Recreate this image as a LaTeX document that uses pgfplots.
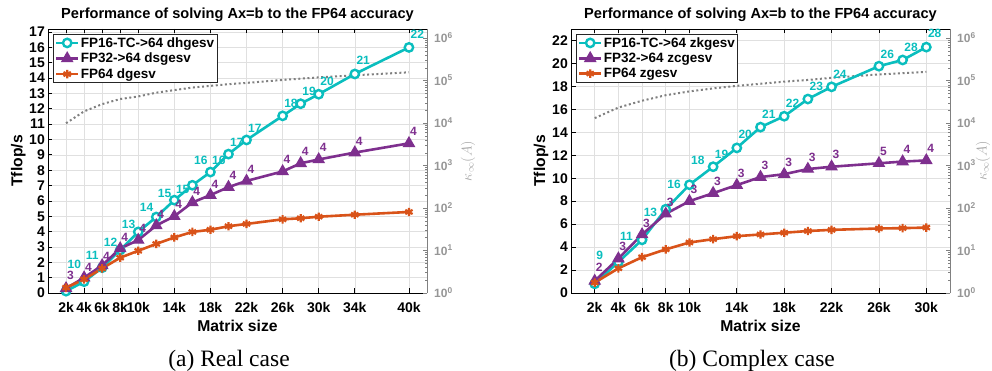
\documentclass[border=0pt]{standalone}
\usepackage{pgfplots}
\pgfplotsset{compat=1.18}
\usepackage{pgfplotstable}
\usepackage{fontspec}
\setmainfont{Liberation Sans}
\newfontfamily\capfont{Liberation Serif}
\definecolor{cyanc}{RGB}{10,190,190}
\definecolor{purp}{RGB}{126,47,142}
\definecolor{oran}{RGB}{217,83,25}
\definecolor{gridc}{RGB}{224,224,224}
\definecolor{kgray}{RGB}{128,128,128}
\definecolor{rgray}{RGB}{150,150,150}
\newcommand\tickfont{\fontsize{14bp}{14bp}\selectfont\bfseries}
\newcommand\titlefont{\fontsize{14.6bp}{15bp}\selectfont\bfseries}
\newcommand\labfont{\fontsize{15.7bp}{16bp}\selectfont\bfseries}
\newcommand\legfont{\fontsize{13.5bp}{14bp}\selectfont\bfseries}
\newcommand\datfont{\fontsize{12bp}{12bp}\selectfont\bfseries}
\newcommand\logfont{\fontsize{12bp}{12bp}\selectfont\bfseries}

% ---------- Real case ----------
\pgfplotstableread{
x y lab dy
2 0.12 10 23
4 0.74 11 22
6 1.65 12 21
8 2.8 13 22
10 3.98 14 20.5
12 4.95 15 19.5
14 6.05 15 7
16 7.02 16 21
18 7.88 16 8
20 9.05 17 8
22 9.97 17 7.5
26 11.54 18 8.5
28 12.33 19 7.8
30 12.95 20 8.3
34 14.27 21 9
40 16.0 22 8.7
}\Lcyan
\pgfplotstableread{
x y lab dy
2 0.3 3 8.5
4 1.0 4 6
6 1.8 4 5
8 2.9 4 7
10 3.45 4 8
12 4.4 4 7
14 5.0 4 8
16 5.9 4 6.5
18 6.38 4 7
20 6.9 4 7.3
22 7.3 4 7
26 7.92 4 8.3
28 8.45 4 7.5
30 8.7 4 7.5
34 9.15 4 7.5
40 9.75 4 8
}\Lpurp
\pgfplotstableread{
x y
2 0.35
4 0.89
6 1.6
8 2.3
10 2.75
12 3.2
14 3.62
16 3.98
18 4.12
20 4.35
22 4.5
26 4.8
28 4.87
30 4.97
34 5.1
40 5.28
}\Loran
\pgfplotstableread{
x k
2 10000
4 19000
6 28200
8 37200
10 42700
12 52500
14 60300
16 69200
18 75900
20 83200
22 89100
26 104700
28 112200
30 120200
34 134900
40 158500
}\Lkap

% ---------- Complex case ----------
\pgfplotstableread{
x y lab dy
2 0.8 9 24
4 2.7 11 22
6 4.63 13 23
8 7.3 16 21
10 9.43 18 20
12 11.0 19 8.7
14 12.64 20 9.3
16 14.45 21 9
18 15.4 22 8.4
20 16.9 23 8.7
22 17.96 24 8.3
26 19.76 26 7.7
28 20.3 28 8.3
30 21.42 28 9.3
}\Rcyan
\pgfplotstableread{
x y lab dy
2 1.05 2 9
4 3.0 3 8.3
6 5.1 3 7
8 6.9 3 7.3
10 8.0 3 8
12 8.7 3 8
14 9.4 3 8
16 10.1 3 8
18 10.35 3 8
20 10.8 3 8
22 11.0 3 8
26 11.3 5 8
28 11.45 4 8
30 11.55 4 8
}\Rpurp
\pgfplotstableread{
x y
2 0.9
4 2.15
6 3.12
8 3.8
10 4.4
12 4.69
14 4.95
16 5.1
18 5.25
20 5.4
22 5.5
26 5.62
28 5.65
30 5.7
}\Roran
\pgfplotstableread{
x k
2 13200
4 23400
6 33900
8 45700
10 56200
12 66100
14 75900
16 85100
18 95500
20 104700
22 117500
26 141300
28 151400
30 162200
}\Rkap

\pgfplotsset{
  base/.style={scale only axis, width=379bp, height=264bp, anchor=south west, xmin=0},
  frame/.style={
    axis x line*=box, axis y line*=left,
    tick align=inside, major tick length=4.5bp,
    grid=major, major grid style={gridc, line width=0.6bp},
    axis line style={black, line width=0.8bp},
    tick style={black, line width=0.8bp},
    ticklabel style={font=\tickfont},
    /pgf/number format/assume math mode=true,
    xticklabel style={anchor=base, inner sep=0pt, yshift=-19bp},
    yticklabel style={anchor=east, inner sep=0pt, xshift=-3bp},
    title style={font=\titlefont, anchor=base, at={(axis description cs:0.5,1)}, yshift=5bp, inner sep=0pt},
    xlabel style={font=\labfont, at={(axis description cs:0.5,0)}, anchor=base, yshift=-38bp, inner sep=0pt},
    ylabel style={font=\labfont, at={(axis description cs:-0.078,0.5)}, anchor=center, inner sep=0pt},
    title={Performance of solving Ax=b to the FP64 accuracy},
    xlabel={Matrix size}, ylabel={Tflop/s},
  },
  logax/.style={
    ymin=1, ymax=1.66e6,
    axis y line*=right, axis x line=none,
    tick align=inside, major tick length=4.5bp, minor tick length=2.5bp,
    axis line style={kgray, line width=0.8bp},
    tick style={kgray, line width=0.6bp},
    ytick={1,10,100,1000,10000,100000,1000000},
    yticklabels={10\textsuperscript{0},10\textsuperscript{1},10\textsuperscript{2},10\textsuperscript{3},10\textsuperscript{4},10\textsuperscript{5},10\textsuperscript{6}},
    yticklabel style={font=\logfont, text=rgray, anchor=base west, inner sep=0pt, xshift=7bp, yshift=-4.5bp},
    ylabel={$\kappa_\infty(A)$},
    ylabel style={font=\fontsize{14bp}{14bp}\selectfont, text=rgray!85, anchor=center, inner sep=0pt},
  },
  series/.style={
    hide axis, clip=false,
    legend style={at={(axis description cs:0,1)}, anchor=north west, xshift=5bp, yshift=-5bp,
      draw=black!85, line width=0.8bp, fill=white, font=\legfont,
      inner xsep=1.5bp, inner ysep=1.5bp, row sep=1.5bp, nodes={inner sep=1.4bp}},
    legend cell align=left,
    legend image code/.code={\draw[mark repeat=2,mark phase=2,##1] plot coordinates {(0bp,0bp) (11bp,0bp) (22bp,0bp)};},
  },
  cyanplot/.style={cyanc, line width=2.6bp, mark=*, mark size=4.2bp,
    mark options={fill=white, draw=cyanc, line width=2.4bp, solid}},
  purpplot/.style={purp, line width=2.6bp, mark=triangle*, mark size=6.2bp,
    mark options={fill=purp, draw=purp, line width=1.2bp, solid}},
  oranplot/.style={oran, line width=2.6bp, mark=asterisk, mark size=4.2bp,
    mark options={draw=oran, line width=2.2bp, solid}},
  lab/.style={nodes near coords, point meta=explicit symbolic,
    visualization depends on={\thisrow{dy} \as \dy},
    nodes near coords style={anchor=base west, inner sep=0pt, xshift=0.5bp, yshift=\dy bp, font=\datfont, text=#1}},
}

\begin{document}
\begin{tikzpicture}
\useasboundingbox (0,0) rectangle (992bp,371bp);

% ======== (a) Real case ========
\begin{axis}[base, frame, at={(48bp,78bp)}, xmax=42, ymin=0, ymax=17.2,
  xtick={2,4,6,8,10,14,18,22,26,30,34,40},
  xticklabels={2k,4k,6k,8k,10k,14k,18k,22k,26k,30k,34k,40k},
  ytick={0,1,...,17}]
\end{axis}
\begin{axis}[base, ymode=log, logax, at={(48bp,78bp)}, xmax=42,
  ylabel style={at={(axis description cs:1.108,0.5)}}]
\addplot[kgray, line width=2bp, dash pattern=on 2bp off 2.6bp] table[x=x,y=k] {\Lkap};
\end{axis}
\begin{axis}[base, series, at={(48bp,78bp)}, xmax=42, ymin=0, ymax=17.2]
\addplot[cyanplot, lab=cyanc] table[x=x,y=y,meta=lab] {\Lcyan};
\addlegendentry{FP16-TC->64 dhgesv}
\addplot[purpplot, lab=purp] table[x=x,y=y,meta=lab] {\Lpurp};
\addlegendentry{FP32->64 dsgesv}
\addplot[oranplot] table[x=x,y=y] {\Loran};
\addlegendentry{FP64 dgesv}
\end{axis}

% ======== (b) Complex case ========
\begin{axis}[base, frame, at={(571bp,78bp)}, xmax=32, ymin=0, ymax=23,
  xtick={2,4,6,8,10,14,18,22,26,30},
  xticklabels={2k,4k,6k,8k,10k,14k,18k,22k,26k,30k},
  ytick={0,2,...,22},
  ylabel style={at={(axis description cs:-0.079,0.5)}}]
\end{axis}
\begin{axis}[base, ymode=log, logax, at={(571bp,78bp)}, xmax=32,
  ylabel style={at={(axis description cs:1.087,0.5)}}]
\addplot[kgray, line width=2bp, dash pattern=on 2bp off 2.6bp] table[x=x,y=k] {\Rkap};
\end{axis}
\begin{axis}[base, series, at={(571bp,78bp)}, xmax=32, ymin=0, ymax=23]
\addplot[cyanplot, lab=cyanc] table[x=x,y=y,meta=lab] {\Rcyan};
\addlegendentry{FP16-TC->64 zkgesv}
\addplot[purpplot, lab=purp] table[x=x,y=y,meta=lab] {\Rpurp};
\addlegendentry{FP32->64 zcgesv}
\addplot[oranplot] table[x=x,y=y] {\Roran};
\addlegendentry{FP64 zgesv}
\end{axis}

\node[font=\capfont\fontsize{23.5bp}{24bp}\selectfont, anchor=base, inner sep=0pt] at (229bp,5bp) {(a) Real case};
\node[font=\capfont\fontsize{23.5bp}{24bp}\selectfont, anchor=base, inner sep=0pt] at (752bp,5bp) {(b) Complex case};
\end{tikzpicture}
\end{document}
